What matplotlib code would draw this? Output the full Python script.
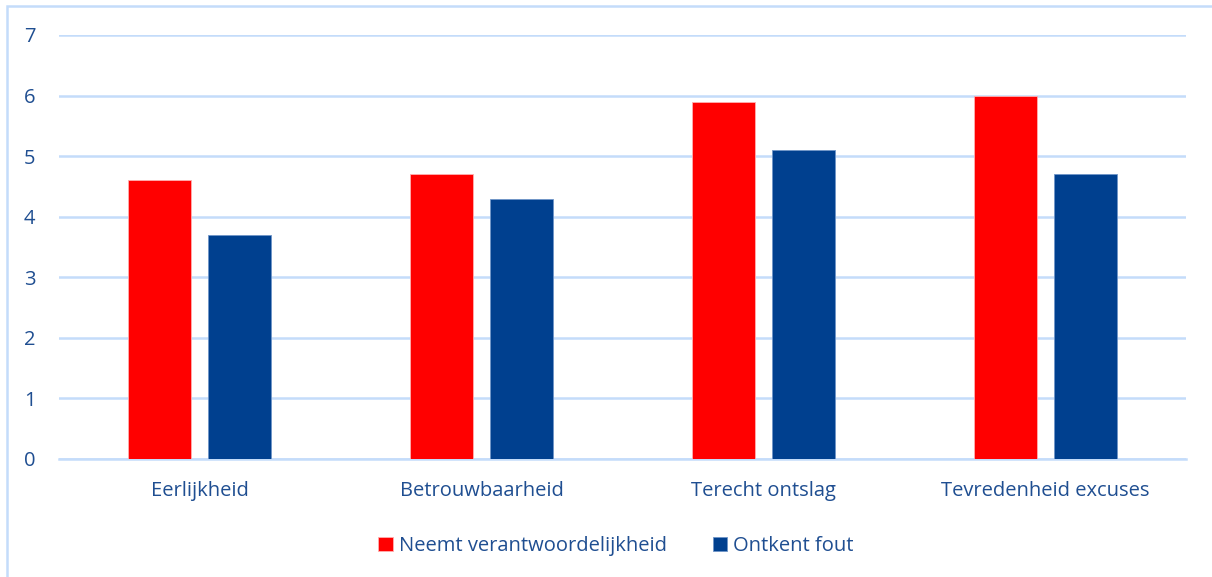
import numpy as np
import matplotlib.pyplot as plt
from matplotlib.patches import Rectangle

categories = ['Eerlijkheid', 'Betrouwbaarheid', 'Terecht ontslag', 'Tevredenheid excuses']
neemt = [4.6, 4.7, 5.9, 6.0]
ontkent = [3.7, 4.3, 5.1, 4.7]
series_names = ['Neemt verantwoordelijkheid', 'Ontkent fout']

red = '#ff0000'
blue = '#00408f'
txt = '#1f4e91'
grid = '#c4dcfa'

plt.rcParams['font.family'] = ['Open Sans', 'DejaVu Sans']

fig = plt.figure(figsize=(12.12, 5.77), dpi=100)
ax = fig.add_axes([59/1212, 1-459/577, (1186-59)/1212, (459-35)/577])

x = np.arange(len(categories))
w = 0.224
off = 0.142
ax.bar(x - off, neemt, w, color=red, edgecolor='#ffb0b0', linewidth=0.6, label=series_names[0], zorder=3)
ax.bar(x + off, ontkent, w, color=blue, edgecolor='#6f95c8', linewidth=0.6, label=series_names[1], zorder=3)

ax.set_xlim(-0.5, len(categories) - 0.5)
ax.set_ylim(0, 7)
ax.set_yticks(range(0, 8))
ax.set_xticks(x)
ax.set_xticklabels(categories)
ax.yaxis.grid(True, color=grid, linewidth=1.8, zorder=0)
for s in ['top', 'right', 'left']:
    ax.spines[s].set_visible(False)
ax.spines['bottom'].set_color(grid)
ax.spines['bottom'].set_linewidth(1.8)
ax.tick_params(axis='both', length=0, labelsize=14.5, labelcolor=txt)
ax.tick_params(axis='y', pad=17)
ax.tick_params(axis='x', pad=16)

leg = fig.legend(loc='center', bbox_to_anchor=(616/1212, 1-546/577), ncol=2, frameon=False,
                 fontsize=14.5, handlelength=0.7, handleheight=0.7, handletextpad=0.3,
                 columnspacing=2.3)
for t in leg.get_texts():
    t.set_color(txt)

fig.patches.append(Rectangle((7/1212, -0.1), 1.1, 1.1-6/577, transform=fig.transFigure,
                             fill=False, edgecolor=grid, linewidth=1.8))

plt.savefig('out.png', dpi=100)
